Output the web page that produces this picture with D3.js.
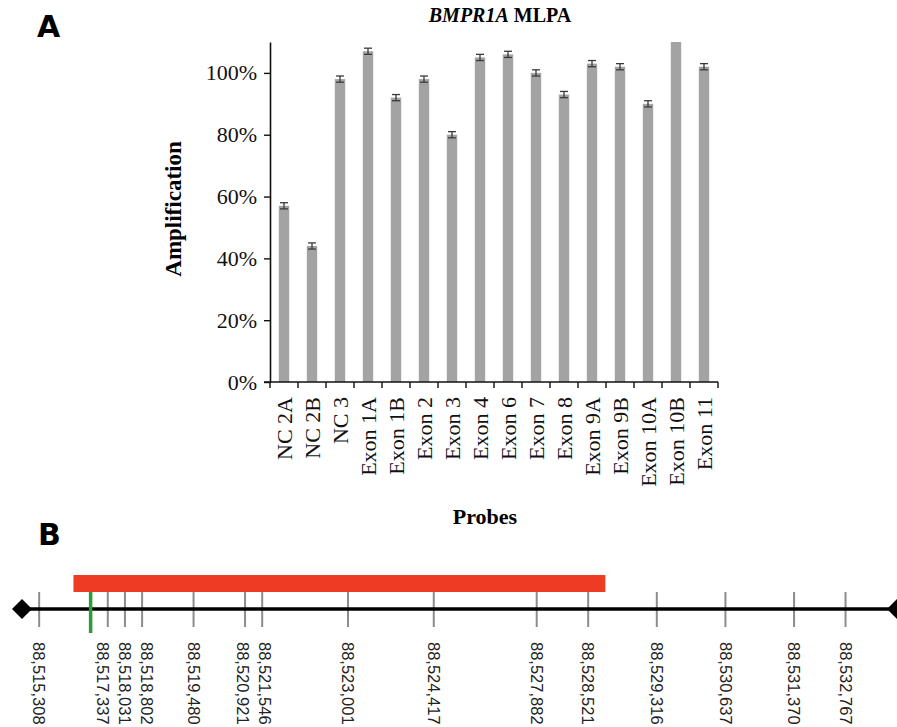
<!DOCTYPE html>
<html>
<head>
<meta charset="utf-8">
<script src="https://cdn.jsdelivr.net/npm/d3@7"></script>
<style>
  body { margin: 0; background: #fff; }
  svg { display: block; }
</style>
</head>
<body>
<div id="chart"></div>
<script>
// panel A: MLPA probe amplification
const probes = ["NC 2A", "NC 2B", "NC 3", "Exon 1A", "Exon 1B", "Exon 2", "Exon 3", "Exon 4",
  "Exon 6", "Exon 7", "Exon 8", "Exon 9A", "Exon 9B", "Exon 10A", "Exon 10B", "Exon 11"];
const amplification = [57, 44, 98, 107, 92, 98, 80, 105, 106, 100, 93, 103, 102, 90, 110, 102];
const errors = [1, 1, 1, 1, 1, 1, 1, 1, 1, 1, 1, 1, 1, 1, 1, 1];
const yTicks = [0, 20, 40, 60, 80, 100];
const yMax = 110;

// panel B: marker map (schematic slots, not to scale)
const markers = [88515308, 88517337, 88518031, 88518802, 88519480, 88520921, 88521546,
  88523001, 88524417, 88527882, 88528521, 88529316, 88530637, 88531370, 88532767];
const markerSlots = [0, 4, 5, 6, 9, 12, 13, 18, 23, 29, 32, 36, 40, 44, 47];
const deletionSlots = [2, 33];
const breakpointSlot = 3;
const mapEnds = [-1, 50];

const width = 897;
const height = 727;
const serif = "'Liberation Serif', 'Times New Roman', serif";

let svg = d3.select("#chart").append("svg")
  .attr("width", width)
  .attr("height", height);

svg.append("rect").attr("width", width).attr("height", height).attr("fill", "#fff");

// panel letters
svg.append("text").attr("x", 37).attr("y", 37).text("A")
  .attr("font-family", "'DejaVu Sans', Verdana, sans-serif")
  .attr("font-weight", "bold").attr("font-size", 30);
svg.append("text").attr("x", 38).attr("y", 545).text("B")
  .attr("font-family", "'DejaVu Sans', Verdana, sans-serif")
  .attr("font-weight", "bold").attr("font-size", 30);

// ---------- panel A ----------
let x = d3.scaleBand()
  .domain(probes)
  .range([270, 718])
  .padding(0);

let y = d3.scaleLinear()
  .domain([0, yMax])
  .range([382, 42]);

let barW = x.bandwidth() * 0.37;

let gA = svg.append("g");

gA.selectAll("rect.bar")
  .data(probes)
  .enter()
  .append("rect")
  .attr("class", "bar")
  .attr("x", (d) => x(d) + x.bandwidth() / 2 - barW / 2)
  .attr("y", (d, i) => y(amplification[i]))
  .attr("width", barW)
  .attr("height", (d, i) => y(0) - y(amplification[i]))
  .attr("fill", "#a3a3a3");

// error bars (skip the off-scale one)
let eb = gA.selectAll("g.err")
  .data(probes.map((p, i) => ({p: p, v: amplification[i], e: errors[i]}))
    .filter((d) => d.v + d.e <= yMax && d.e > 0))
  .enter()
  .append("g")
  .attr("class", "err")
  .attr("stroke", "#3a3a3a")
  .attr("stroke-width", 1.3);

eb.append("line")
  .attr("x1", (d) => x(d.p) + x.bandwidth() / 2)
  .attr("x2", (d) => x(d.p) + x.bandwidth() / 2)
  .attr("y1", (d) => y(d.v - d.e))
  .attr("y2", (d) => y(d.v + d.e));
eb.append("line")
  .attr("x1", (d) => x(d.p) + x.bandwidth() / 2 - 4)
  .attr("x2", (d) => x(d.p) + x.bandwidth() / 2 + 4)
  .attr("y1", (d) => y(d.v + d.e))
  .attr("y2", (d) => y(d.v + d.e));
eb.append("line")
  .attr("x1", (d) => x(d.p) + x.bandwidth() / 2 - 4)
  .attr("x2", (d) => x(d.p) + x.bandwidth() / 2 + 4)
  .attr("y1", (d) => y(d.v - d.e))
  .attr("y2", (d) => y(d.v - d.e));

// y axis
let yAxis = gA.append("g")
  .attr("transform", "translate(" + x.range()[0] + ",0)")
  .call(d3.axisLeft(y).tickValues(yTicks).tickFormat((d) => d + "%").tickSize(6).tickSizeOuter(0));
yAxis.select(".domain").attr("stroke", "#111").attr("stroke-width", 1.6);
yAxis.selectAll(".tick line").attr("stroke", "#111").attr("stroke-width", 1.4);
yAxis.selectAll("text")
  .attr("font-family", serif).attr("font-size", 22).attr("fill", "#111").attr("x", -13);

// x axis: labels from axisBottom, band boundary ticks drawn separately
let xAxis = gA.append("g")
  .attr("transform", "translate(0," + y(0) + ")")
  .call(d3.axisBottom(x).tickSize(0));
xAxis.select(".domain").remove();
xAxis.selectAll("text")
  .attr("font-family", serif).attr("font-size", 22).attr("fill", "#111")
  .attr("transform", "rotate(-90)")
  .attr("text-anchor", "end")
  .attr("x", -15)
  .attr("y", 0)
  .attr("dy", "0.35em");

let bounds = probes.map((d) => x(d)).concat([x.range()[1]]);
gA.append("g").selectAll("line")
  .data(bounds)
  .enter()
  .append("line")
  .attr("x1", (d) => d).attr("x2", (d) => d)
  .attr("y1", y(0)).attr("y2", y(0) + 6)
  .attr("stroke", "#111").attr("stroke-width", 1.4);
gA.append("line")
  .attr("x1", x.range()[0] - 6).attr("x2", x.range()[1])
  .attr("y1", y(0)).attr("y2", y(0))
  .attr("stroke", "#111").attr("stroke-width", 1.6);

// titles
let title = gA.append("text")
  .attr("x", 500).attr("y", 22)
  .attr("text-anchor", "middle")
  .attr("font-family", serif).attr("font-weight", "bold").attr("font-size", 20);
title.append("tspan").attr("font-style", "italic").text("BMPR1A");
title.append("tspan").text(" MLPA");

gA.append("text")
  .attr("transform", "translate(181,209) rotate(-90)")
  .attr("text-anchor", "middle")
  .attr("font-family", serif).attr("font-weight", "bold").attr("font-size", 23)
  .text("Amplification");

gA.append("text")
  .attr("x", 485).attr("y", 524)
  .attr("text-anchor", "middle")
  .attr("font-family", serif).attr("font-weight", "bold").attr("font-size", 22)
  .text("Probes");

// ---------- panel B ----------
let xs = d3.scaleLinear()
  .domain(mapEnds)
  .range([22, 897]);

let lineY = 609;
let gB = svg.append("g");

gB.append("rect")
  .attr("x", xs(deletionSlots[0]))
  .attr("y", 575)
  .attr("width", xs(deletionSlots[1]) - xs(deletionSlots[0]))
  .attr("height", 17)
  .attr("fill", "#ee3b24");

gB.selectAll("line.marker")
  .data(markerSlots)
  .enter()
  .append("line")
  .attr("class", "marker")
  .attr("x1", (d) => xs(d)).attr("x2", (d) => xs(d))
  .attr("y1", 592).attr("y2", 627)
  .attr("stroke", "#8c8c8c").attr("stroke-width", 2);

gB.append("line")
  .attr("x1", xs(mapEnds[0])).attr("x2", xs(mapEnds[1]))
  .attr("y1", lineY).attr("y2", lineY)
  .attr("stroke", "#000").attr("stroke-width", 3.5);

gB.append("line")
  .attr("x1", xs(breakpointSlot)).attr("x2", xs(breakpointSlot))
  .attr("y1", 592).attr("y2", 633)
  .attr("stroke", "#2e9a3e").attr("stroke-width", 3.5);

gB.selectAll("path.end")
  .data(mapEnds)
  .enter()
  .append("path")
  .attr("class", "end")
  .attr("d", d3.symbol(d3.symbolSquare, 200))
  .attr("transform", (d) => "translate(" + xs(d) + "," + lineY + ") rotate(45)")
  .attr("fill", "#000");

// spread crowded labels apart a little
let lx = markerSlots.map((s) => xs(s));
let gap = 22;
for (let k = 0; k < 60; k++) {
  for (let i = 1; i < lx.length; i++) {
    let diff = lx[i] - lx[i - 1];
    if (diff < gap) {
      lx[i - 1] -= (gap - diff) / 2;
      lx[i] += (gap - diff) / 2;
    }
  }
}

gB.selectAll("text.mlabel")
  .data(markers)
  .enter()
  .append("text")
  .attr("class", "mlabel")
  .attr("transform", (d, i) => "translate(" + lx[i] + ",642) rotate(90)")
  .attr("dy", "0.35em")
  .attr("font-family", "'Liberation Sans', Arial, sans-serif")
  .attr("font-size", 16.5)
  .attr("fill", "#222")
  .text((d) => d3.format(",")(d));
</script>
</body>
</html>
